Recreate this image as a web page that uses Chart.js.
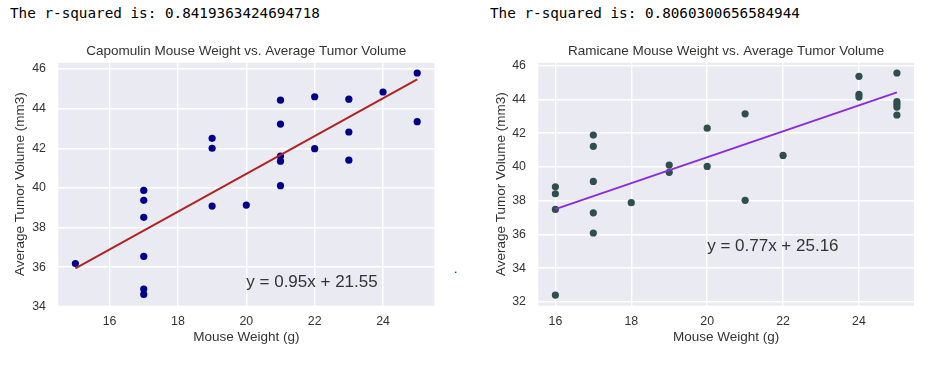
<!DOCTYPE html>
<html>
<head>
<meta charset="utf-8">
<script src="https://cdn.jsdelivr.net/npm/chart.js@4"></script>
<style>
  body { margin: 0; background: #fff; width: 932px; height: 366px; position: relative; overflow: hidden; }
  .rsq { position: absolute; top: 5px; font-family: "DejaVu Sans Mono", monospace; font-size: 14.3px; color: #000; white-space: pre; }
  .dot { position: absolute; left: 454px; top: 262px; font-family: "Liberation Sans", Arial, sans-serif; font-size: 12px; color: #000; }
  canvas { position: absolute; top: 0; }
</style>
</head>
<body>
<div class="rsq" style="left:10px">The r-squared is: 0.8419363424694718</div>
<div class="rsq" style="left:490px">The r-squared is: 0.8060300656584944</div>
<div class="dot">.</div>
<canvas id="chart-1" width="456" height="366" style="left:0;width:456px;height:366px"></canvas>
<canvas id="chart-2" width="466" height="366" style="left:466px;width:466px;height:366px"></canvas>
<script>
// Capomulin: mouse weight (g) vs average tumor volume (mm3)
var capWeight = [15, 17, 17, 17, 17, 17, 17, 19, 19, 19, 20, 21, 21, 21, 21, 21, 22, 22, 23, 23, 23, 24, 25, 25];
var capVolume = [36.18, 39.87, 39.37, 38.51, 36.54, 34.89, 34.62, 42.50, 42.00, 39.08, 39.13, 44.43, 43.22, 41.61, 41.35, 40.11, 44.60, 41.98, 44.48, 42.82, 41.40, 44.84, 45.80, 43.34];
var capLineX = [15, 25];
var capLineY = [35.93, 45.48];
var capEquation = 'y = 0.95x + 21.55';

// Ramicane
var ramWeight = [16, 16, 16, 16, 17, 17, 17, 17, 17, 18, 19, 19, 20, 20, 21, 21, 22, 24, 24, 24, 25, 25, 25, 25, 25];
var ramVolume = [38.82, 38.41, 37.48, 32.40, 41.89, 41.22, 39.14, 37.28, 36.08, 37.88, 40.11, 39.68, 42.30, 40.03, 43.15, 38.02, 40.68, 45.37, 44.30, 44.14, 45.57, 43.87, 43.71, 43.55, 43.08];
var ramLineX = [16, 25];
var ramLineY = [37.50, 44.42];
var ramEquation = 'y = 0.77x + 25.16';

var xTicks = [16, 18, 20, 22, 24];
var capYTicks = [34, 36, 38, 40, 42, 44, 46];
var ramYTicks = [32, 34, 36, 38, 40, 42, 44, 46];

var FONT = '"Liberation Sans", Arial, sans-serif';
var TXT = '#333333';

function toPoints(xs, ys) {
    return xs.map(function (x, i) { return {x: x, y: ys[i]}; });
}

var plotBg = {
    id: 'plotBg',
    beforeDraw: function (chart) {
        var a = chart.chartArea, ctx = chart.ctx;
        ctx.save();
        ctx.fillStyle = '#EAEAF2';
        ctx.fillRect(a.left, a.top, a.right - a.left, a.bottom - a.top);
        ctx.restore();
    }
};

var equationLabel = {
    id: 'equationLabel',
    afterDatasetsDraw: function (chart, args, opts) {
        var ctx = chart.ctx;
        ctx.save();
        ctx.font = '17px ' + FONT;
        ctx.fillStyle = TXT;
        ctx.textAlign = 'left';
        ctx.textBaseline = 'alphabetic';
        ctx.fillText(opts.text, chart.scales.x.getPixelForValue(opts.x), chart.scales.y.getPixelForValue(opts.y));
        ctx.restore();
    }
};

function gridColor(c) {
    var s = c.scale;
    if (c.tick && (c.tick.value < s.min || c.tick.value > s.max)) return 'rgba(0,0,0,0)';
    return '#ffffff';
}

function drawChart(id, cfg) {
    var ctx = document.getElementById(id);
    return new Chart(ctx, {
        type: 'scatter',
        data: {
            datasets: [{
                type: 'line',
                data: toPoints(cfg.lineX, cfg.lineY),
                borderColor: cfg.lineColor,
                borderWidth: 2,
                pointRadius: 0,
                fill: false,
                order: 0
            }, {
                data: toPoints(cfg.xs, cfg.ys),
                backgroundColor: cfg.pointColor,
                borderColor: cfg.pointColor,
                borderWidth: 0,
                pointRadius: 3.6,
                order: 1
            }]
        },
        options: {
            responsive: false,
            animation: false,
            layout: { padding: { left: 0, right: cfg.padRight, top: 0, bottom: 0 } },
            plugins: {
                legend: { display: false },
                tooltip: { enabled: false },
                title: {
                    display: true,
                    text: cfg.title,
                    fullSize: false,
                    color: TXT,
                    font: { family: FONT, size: 13.5, weight: 'normal', lineHeight: 1.2 },
                    padding: { top: 42.9, bottom: 3.6 }
                },
                equationLabel: { text: cfg.equation, x: 20, y: 35 }
            },
            scales: {
                x: {
                    type: 'linear',
                    min: cfg.xMin,
                    max: cfg.xMax,
                    afterBuildTicks: function (s) { s.ticks = xTicks.map(function (v) { return {value: v}; }); },
                    afterFit: function (s) { s.height = 60.3; },
                    border: { display: false },
                    grid: { color: gridColor, lineWidth: 1.4, drawTicks: false },
                    ticks: { color: TXT, padding: 8, font: { family: FONT, size: 12.4 } },
                    title: {
                        display: true,
                        text: 'Mouse Weight (g)',
                        color: TXT,
                        font: { family: FONT, size: 13.5, lineHeight: 1.2 },
                        padding: { top: 0, bottom: 20.9 }
                    }
                },
                y: {
                    type: 'linear',
                    min: cfg.yMin,
                    max: cfg.yMax,
                    afterBuildTicks: function (s) { s.ticks = cfg.yTicks.map(function (v) { return {value: v}; }); },
                    afterFit: function (s) { s.width = cfg.yWidth; },
                    border: { display: false },
                    grid: { color: gridColor, lineWidth: 1.4, drawTicks: false },
                    ticks: { color: TXT, padding: 12.3, font: { family: FONT, size: 12.4 } },
                    title: {
                        display: true,
                        text: 'Average Tumor Volume (mm3)',
                        color: TXT,
                        font: { family: FONT, size: 13.5, lineHeight: 1.2 },
                        padding: { top: cfg.yTitlePad, bottom: 0 }
                    }
                }
            }
        },
        plugins: [plotBg, equationLabel]
    });
}

drawChart('chart-1', {
    title: 'Capomulin Mouse Weight vs. Average Tumor Volume',
    xs: capWeight, ys: capVolume,
    lineX: capLineX, lineY: capLineY,
    equation: capEquation,
    pointColor: '#00008B', lineColor: '#B22222',
    xMin: 14.5, xMax: 25.5, yMin: 34.05, yMax: 46.32,
    yTicks: capYTicks,
    padRight: 21.7, yWidth: 58.3, yTitlePad: 12.4
});

drawChart('chart-2', {
    title: 'Ramicane Mouse Weight vs. Average Tumor Volume',
    xs: ramWeight, ys: ramVolume,
    lineX: ramLineX, lineY: ramLineY,
    equation: ramEquation,
    pointColor: '#2F4F4F', lineColor: '#8A2BE2',
    xMin: 15.55, xMax: 25.45, yMin: 31.77, yMax: 46.18,
    yTicks: ramYTicks,
    padRight: 18, yWidth: 72.3, yTitlePad: 26.9
});
</script>
</body>
</html>
